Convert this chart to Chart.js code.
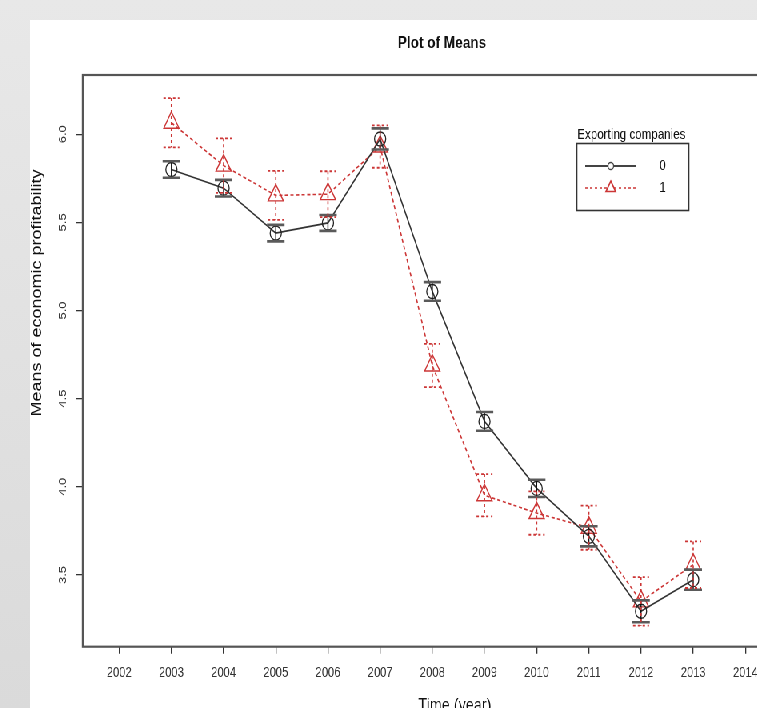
<!DOCTYPE html>
<html>
<head>
<meta charset="utf-8">
<script src="https://cdn.jsdelivr.net/npm/chart.js@4.4.1/dist/chart.umd.min.js"></script>
<style>
html, body { margin: 0; padding: 0; width: 757px; height: 708px; overflow: hidden; }
body { background: linear-gradient(to bottom, #e8e8e8, #dadada); position: relative; }
#panel { position: absolute; left: 30px; top: 20px; width: 1000px; height: 700px; background: #fff; transform: scaleX(0.8); transform-origin: 0 0; }
</style>
</head>
<body>
<div id="panel"><canvas id="meansChart" width="1000" height="700"></canvas></div>
<script>
// data
const years = [2003, 2004, 2005, 2006, 2007, 2008, 2009, 2010, 2011, 2012, 2013];
const means0 = [5.80, 5.694, 5.439, 5.497, 5.973, 5.108, 4.371, 3.991, 3.719, 3.294, 3.473];
const se0 = [0.047, 0.047, 0.047, 0.045, 0.06, 0.053, 0.053, 0.049, 0.057, 0.062, 0.057];
const means1 = [6.065, 5.822, 5.653, 5.66, 5.93, 4.688, 3.952, 3.851, 3.768, 3.35, 3.558];
const se1 = [0.14, 0.155, 0.139, 0.13, 0.12, 0.123, 0.12, 0.123, 0.125, 0.138, 0.132];
const groupLabels = ['0', '1'];
const legendTitle = 'Exporting companies';
const xRange = [2001.3, 2015.07];
const yRange = [3.093, 6.336];

const blackColor = '#333333';
const redColor = '#cc3636';
const fontFamily = "'Liberation Sans', Arial, Helvetica, sans-serif";

Chart.defaults.font.family = fontFamily;
Chart.defaults.color = '#222';

function toPoints(ys) {
    return years.map(function(yr, i) { return { x: yr, y: ys[i] }; });
}

function drawErrorBars(ctx, xs, ys, means, ses, style) {
    ctx.save();
    for (let i = 0; i < years.length; i++) {
        const px = xs.getPixelForValue(years[i]);
        const top = ys.getPixelForValue(means[i] + ses[i]);
        const bot = ys.getPixelForValue(means[i] - ses[i]);
        ctx.setLineDash(style.dash);
        ctx.strokeStyle = style.stemColor;
        ctx.lineWidth = style.stemWidth;
        ctx.beginPath();
        ctx.moveTo(px, top);
        ctx.lineTo(px, bot);
        ctx.stroke();
        ctx.strokeStyle = style.capColor;
        ctx.lineWidth = style.capWidth;
        ctx.beginPath();
        ctx.moveTo(px - style.capHalf, top);
        ctx.lineTo(px + style.capHalf, top);
        ctx.moveTo(px - style.capHalf, bot);
        ctx.lineTo(px + style.capHalf, bot);
        ctx.stroke();
    }
    ctx.restore();
}

const extras = {
    id: 'extras',
    afterDatasetsDraw(chart) {
        const ctx = chart.ctx;
        const xs = chart.scales.x;
        const ys = chart.scales.y;
        drawErrorBars(ctx, xs, ys, means0, se0, {
            dash: [], stemColor: '#111', stemWidth: 1.4, capColor: '#5a5a5a', capWidth: 2.6, capHalf: 11
        });
        drawErrorBars(ctx, xs, ys, means1, se1, {
            dash: [3, 3], stemColor: redColor, stemWidth: 1.6, capColor: redColor, capWidth: 1.8, capHalf: 10
        });
    },
    afterDraw(chart) {
        const ctx = chart.ctx;
        const area = chart.chartArea;
        ctx.save();

        // plot frame
        ctx.strokeStyle = '#555';
        ctx.lineWidth = 2.2;
        ctx.strokeRect(area.left, area.top, area.right - area.left, area.bottom - area.top);

        // axis titles
        ctx.fillStyle = '#111';
        ctx.font = '18px ' + fontFamily;
        ctx.textAlign = 'center';
        ctx.textBaseline = 'alphabetic';
        ctx.fillText('Time (year)', 531, 691);

        ctx.save();
        ctx.translate(9, 273);
        ctx.rotate(-Math.PI / 2);
        ctx.textBaseline = 'middle';
        ctx.fillText('Means of economic profitability', 0, 0);
        ctx.restore();

        // legend
        ctx.font = '14.5px ' + fontFamily;
        ctx.textAlign = 'left';
        ctx.textBaseline = 'middle';
        ctx.fillStyle = '#111';
        ctx.fillText(legendTitle, 684, 115);
        ctx.strokeStyle = '#333';
        ctx.lineWidth = 1.6;
        ctx.strokeRect(683.5, 123.5, 140, 67);

        ctx.strokeStyle = '#444';
        ctx.lineWidth = 1.8;
        ctx.beginPath();
        ctx.moveTo(694, 146);
        ctx.lineTo(758, 146);
        ctx.stroke();
        ctx.fillStyle = '#fff';
        ctx.lineWidth = 1.3;
        ctx.beginPath();
        ctx.arc(726, 146, 3.5, 0, Math.PI * 2);
        ctx.fill();
        ctx.stroke();

        ctx.strokeStyle = redColor;
        ctx.setLineDash([3, 3]);
        ctx.lineWidth = 1.6;
        ctx.beginPath();
        ctx.moveTo(694, 168);
        ctx.lineTo(758, 168);
        ctx.stroke();
        ctx.setLineDash([]);
        ctx.beginPath();
        ctx.moveTo(726, 161);
        ctx.lineTo(732, 171.5);
        ctx.lineTo(720, 171.5);
        ctx.closePath();
        ctx.fill();
        ctx.stroke();

        ctx.fillStyle = '#111';
        ctx.font = '14px ' + fontFamily;
        ctx.textAlign = 'center';
        ctx.fillText(groupLabels[0], 791, 146);
        ctx.fillText(groupLabels[1], 791, 168);

        ctx.restore();
    }
};

const ctx = document.getElementById('meansChart').getContext('2d');
new Chart(ctx, {
    type: 'line',
    data: {
        datasets: [{
            label: groupLabels[0],
            data: toPoints(means0),
            borderColor: blackColor,
            borderWidth: 1.6,
            tension: 0,
            pointStyle: 'circle',
            pointRadius: 7,
            pointBorderColor: '#222',
            pointBackgroundColor: 'rgba(0,0,0,0)',
            pointBorderWidth: 1.3,
            clip: false
        }, {
            label: groupLabels[1],
            data: toPoints(means1),
            borderColor: redColor,
            borderWidth: 1.6,
            borderDash: [4, 3],
            tension: 0,
            pointStyle: 'triangle',
            pointRadius: 11,
            pointBorderColor: redColor,
            pointBackgroundColor: 'rgba(0,0,0,0)',
            pointBorderWidth: 1.4,
            clip: false
        }]
    },
    options: {
        responsive: false,
        animation: false,
        devicePixelRatio: 1,
        layout: { padding: { left: 0, right: 36, top: 0, bottom: 0 } },
        plugins: {
            legend: { display: false },
            tooltip: { enabled: false },
            title: {
                display: true,
                text: 'Plot of Means',
                fullSize: false,
                color: '#111',
                font: { size: 17, weight: 'bold' },
                padding: { top: 12.8, bottom: 21.8 }
            }
        },
        scales: {
            x: {
                type: 'linear',
                min: xRange[0],
                max: xRange[1],
                afterFit: function(scale) { scale.height = 73.3; },
                border: { display: false },
                grid: { display: true, drawOnChartArea: false, drawTicks: true, tickLength: 7, color: '#333', lineWidth: 1.3 },
                ticks: {
                    stepSize: 1,
                    includeBounds: false,
                    autoSkip: false,
                    maxRotation: 0,
                    padding: 10.6,
                    color: '#333',
                    font: { size: 14 },
                    callback: function(v) { return String(v); }
                }
            },
            y: {
                type: 'linear',
                min: yRange[0],
                max: yRange[1],
                afterFit: function(scale) { scale.width = 65.9; },
                border: { display: false },
                grid: { display: true, drawOnChartArea: false, drawTicks: true, tickLength: 8.75, color: '#333', lineWidth: 1.3 },
                ticks: {
                    stepSize: 0.5,
                    includeBounds: false,
                    minRotation: 90,
                    maxRotation: 90,
                    crossAlign: 'center',
                    padding: 6.9,
                    color: '#333',
                    font: { size: 13 },
                    callback: function(v) { return v.toFixed(1); }
                }
            }
        }
    },
    plugins: [extras]
});
</script>
</body>
</html>
